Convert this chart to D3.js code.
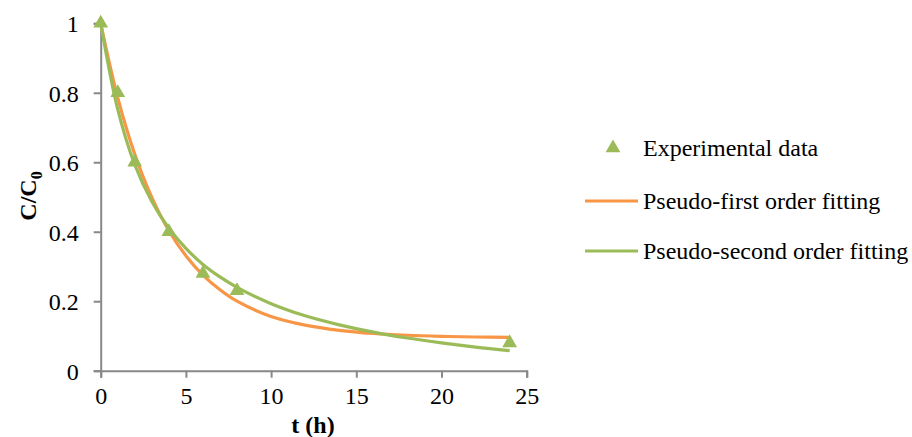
<!DOCTYPE html>
<html>
<head>
<meta charset="utf-8">
<script src="https://cdn.jsdelivr.net/npm/d3@7"></script>
</head>
<body style="margin:0">
<svg id="chart" width="912" height="437" font-family="Liberation Serif"></svg>
<script>
// Experimental points: time (h) and normalised concentration C/C0
const expTime = [0, 1, 2, 4, 6, 8, 24];
const expValue = [1.0, 0.80, 0.60, 0.40, 0.28, 0.23, 0.08];

// Pseudo-first order fit
const firstTime = [0, 1, 2, 3, 4, 5, 6, 7, 8, 10, 12, 14, 16, 18, 20, 22, 24];
const firstValue = [1.0, 0.786, 0.623, 0.499, 0.403, 0.331, 0.275, 0.233, 0.200, 0.156, 0.131, 0.116, 0.107, 0.102, 0.099, 0.097, 0.096];

// Pseudo-second order fit
const secondTime = [0, 1, 2, 3, 4, 5, 6, 7, 8, 10, 12, 14, 16, 18, 20, 22, 24];
const secondValue = [1.0, 0.752, 0.593, 0.487, 0.410, 0.352, 0.306, 0.270, 0.240, 0.193, 0.158, 0.132, 0.111, 0.094, 0.080, 0.068, 0.058];

const xTicks = [0, 5, 10, 15, 20, 25];
const yTicks = [0, 0.2, 0.4, 0.6, 0.8, 1];
const legendLabels = ["Experimental data", "Pseudo-first order fitting", "Pseudo-second order fitting"];

const serif = "Liberation Serif";
const fontSize = 24;
const orange = "#F79646";
const green = "#9BBB59";
const axisGrey = "#888888";

const svg = d3.select("#chart");

const x = d3.scaleLinear().domain([0, 25]).range([100.7, 526.7]);
const y = d3.scaleLinear().domain([0, 1]).range([370.7, 23.3]);

// Tick labels and axis lines are drawn by hand-built groups on top of d3 axes
const xAxis = svg.append("g")
  .attr("transform", `translate(0,${y(0)})`)
  .call(d3.axisBottom(x).tickValues(xTicks).tickSize(7).tickPadding(9).tickFormat(d3.format("d")));
const yAxis = svg.append("g")
  .attr("transform", `translate(${x(0)},0)`)
  .call(d3.axisLeft(y).tickValues(yTicks).tickSize(7).tickPadding(15).tickFormat(d => d === 0 || d === 1 ? d3.format("d")(d) : d3.format(".1f")(d)));

[xAxis, yAxis].forEach(g => {
  g.attr("font-family", serif).attr("font-size", fontSize);
  g.select(".domain").attr("stroke", axisGrey).attr("stroke-width", 2);
  g.selectAll(".tick line").attr("stroke", axisGrey).attr("stroke-width", 2);
  g.selectAll(".tick text").attr("fill", "#000");
});
yAxis.selectAll(".tick text").attr("dy", "0.36em");

// Axis titles
svg.append("text")
  .attr("x", 313).attr("y", 433)
  .attr("text-anchor", "middle")
  .attr("font-family", serif)
  .attr("font-size", fontSize).attr("font-weight", "bold")
  .text("t (h)");

const yTitle = svg.append("text")
  .attr("transform", "translate(36,196) rotate(-90)")
  .attr("text-anchor", "middle")
  .attr("font-family", serif)
  .attr("font-size", fontSize).attr("font-weight", "bold");
yTitle.append("tspan").text("C/C");
yTitle.append("tspan").attr("dy", 6).attr("font-size", 16).text("0");

// Fitted curves
const line = d3.line()
  .x(d => x(d[0]))
  .y(d => y(d[1]))
  .curve(d3.curveCatmullRom.alpha(0.5));

svg.append("path")
  .datum(firstTime.map((t, i) => [t, firstValue[i]]))
  .attr("fill", "none").attr("stroke", orange).attr("stroke-width", 3.2)
  .attr("stroke-linejoin", "round")
  .attr("d", line);

svg.append("path")
  .datum(secondTime.map((t, i) => [t, secondValue[i]]))
  .attr("fill", "none").attr("stroke", green).attr("stroke-width", 3.2)
  .attr("stroke-linejoin", "round")
  .attr("d", line);

// Experimental markers
const tri = d3.symbol().type(d3.symbolTriangle).size(95);
svg.append("g").selectAll("path")
  .data(expTime.map((t, i) => [t, expValue[i]]))
  .join("path")
  .attr("transform", d => `translate(${x(d[0])},${y(d[1])})`)
  .attr("d", tri)
  .attr("fill", green);

// Legend
const legend = svg.append("g");
legend.append("path")
  .attr("transform", "translate(613,148)")
  .attr("d", tri).attr("fill", green);
legend.append("line")
  .attr("x1", 585).attr("x2", 638).attr("y1", 201).attr("y2", 201)
  .attr("stroke", orange).attr("stroke-width", 3.2);
legend.append("line")
  .attr("x1", 585).attr("x2", 638).attr("y1", 251).attr("y2", 251)
  .attr("stroke", green).attr("stroke-width", 3.2);
const legendY = [156, 209, 259];
legend.selectAll("text")
  .data(legendLabels)
  .join("text")
  .attr("x", 643)
  .attr("y", (d, i) => legendY[i])
  .attr("font-family", serif)
  .attr("font-size", fontSize)
  .text(d => d);
</script>
</body>
</html>
